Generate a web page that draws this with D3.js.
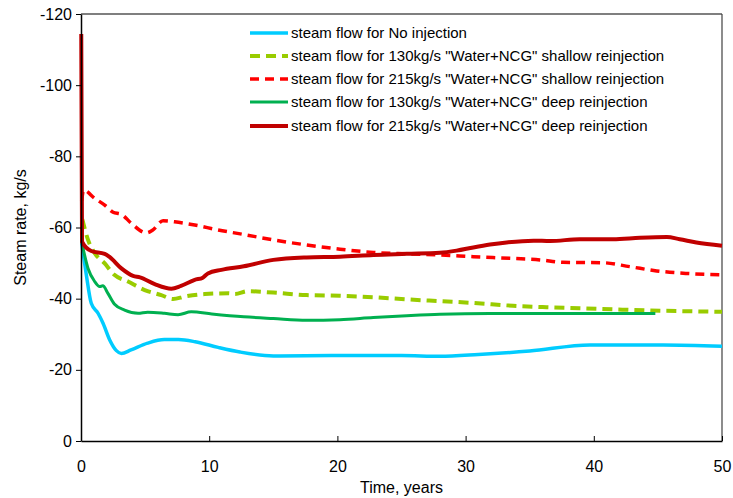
<!DOCTYPE html>
<html>
<head>
<meta charset="utf-8">
<script src="https://cdn.jsdelivr.net/npm/d3@7"></script>
<style>
  html, body { margin: 0; padding: 0; background: #fff; }
  svg { display: block; font-family: "Liberation Sans", Arial, sans-serif; }
</style>
</head>
<body>
<svg id="chart" width="733" height="498"></svg>
<script>
// ---- Data (time in years, steam rate in kg/s) ----
const xTicks = [0, 10, 20, 30, 40, 50];
const yTicks = [0, -20, -40, -60, -80, -100, -120];

const seriesNames = [
  "steam flow for No injection",
  "steam flow for 130kg/s \"Water+NCG\" shallow reinjection",
  "steam flow for 215kg/s \"Water+NCG\" shallow reinjection",
  "steam flow for 130kg/s \"Water+NCG\" deep reinjection",
  "steam flow for 215kg/s \"Water+NCG\" deep reinjection"
];

const noInjection = [
  [0.05,-55.6],[0.4,-47.1],[0.8,-38.7],[1.33,-35.9],[1.72,-33.1],[2.24,-28.4],[2.76,-25.4],
  [3.15,-24.6],[3.9,-25.6],[5.2,-27.5],[6.5,-28.5],[7.6,-28.5],[8.9,-27.9],[10.7,-26.3],
  [12.4,-25.0],[15,-23.9],[20,-24.0],[25,-24.0],[28,-23.8],[31,-24.3],[35,-25.3],[39.7,-27.0],
  [45.4,-27.0],[50,-26.6]
];
const shallow130 = [
  [0.1,-62.3],[0.55,-56.5],[1.07,-52.8],[1.85,-49.9],[2.6,-46.7],[3.67,-44.8],[4.97,-42.4],
  [6.26,-41.0],[7.18,-39.9],[8.1,-40.6],[9.65,-41.3],[11.5,-41.5],[12.0,-41.3],[13.0,-42.1],
  [15,-41.7],[17.6,-41.0],[20.2,-40.8],[22.8,-40.4],[25.4,-39.8],[28,-39.3],[30.6,-38.8],
  [33.7,-38.0],[36.3,-37.6],[38.9,-37.3],[41.5,-37.0],[44.1,-36.7],[46.7,-36.5],[50,-36.3]
];
const shallow215 = [
  [0.05,-67.5],[0.2,-70.5],[1.07,-68.2],[1.85,-66.3],[2.5,-64.3],[3.15,-63.7],[3.92,-61.2],
  [5.1,-58.5],[5.6,-59.3],[6.4,-61.9],[7.3,-61.6],[8.87,-60.7],[10.7,-59.3],[12.6,-58.1],
  [15,-56.5],[17.6,-55.1],[20.2,-53.9],[22.8,-53.0],[25.4,-52.6],[28,-52.3],[30.6,-51.8],
  [33.7,-51.3],[35.8,-50.9],[37.6,-50.2],[40.7,-50.1],[42.8,-49.0],[44.9,-47.8],[47.2,-47.1],
  [50,-46.7]
];
const deep130 = [
  [0.05,-56.0],[0.55,-48.5],[1.07,-44.8],[1.45,-43.4],[1.7,-43.6],[2.1,-41.5],[2.6,-38.5],
  [3.4,-36.8],[4.45,-35.9],[5.2,-36.2],[6.5,-35.9],[7.57,-35.5],[8.6,-36.3],[10.2,-35.7],
  [12.7,-34.9],[15,-34.4],[17.6,-33.9],[20.2,-34.1],[22.8,-34.7],[25.4,-35.2],[28,-35.6],
  [31.9,-35.8],[38,-35.8],[44.8,-35.8]
];
const deep215 = [
  [0.02,-114.4],[0.08,-56.0],[0.8,-53.4],[1.85,-52.6],[2.2,-51.8],[3.15,-48.5],[4.06,-46.4],
  [4.6,-46.0],[5.75,-44.1],[7.05,-42.8],[7.8,-43.6],[8.87,-45.3],[9.5,-45.9],[9.9,-47.1],
  [10.95,-48.1],[12.7,-49.1],[15,-50.9],[17.6,-51.6],[20.2,-51.8],[22.8,-52.3],[25.4,-52.6],
  [28,-52.9],[29.3,-53.5],[30.6,-54.4],[31.9,-55.2],[33.2,-55.8],[35.3,-56.3],[36.6,-56.2],
  [38.9,-56.7],[41.5,-56.7],[43.6,-57.1],[45.7,-57.3],[46.7,-56.7],[48,-55.8],[50,-54.9]
];

const seriesData = [noInjection, shallow130, shallow215, deep130, deep215];
const seriesColors = ["#00CCFF", "#99CC00", "#FF0000", "#00B050", "#C00000"];
const seriesDash = [null, "10,6", "9,6", null, null];
const seriesWidth = [3.5, 4, 3.5, 3, 4];

// ---- Layout ----
(function () {
  const svg = d3.select("#chart");
  const mLeft = 81, mRight = 722, mTop = 14, mBottom = 441;
  const font = "'Liberation Sans', Arial, sans-serif";

  const x = d3.scaleLinear().domain([0, 50]).range([mLeft, mRight]);
  const y = d3.scaleLinear().domain([0, -120]).range([mBottom, mTop]);

  // plot frame (top & right)
  svg.append("line").attr("x1", mLeft).attr("x2", mRight).attr("y1", mTop).attr("y2", mTop)
    .attr("stroke", "#000").attr("stroke-width", 1.2);
  svg.append("line").attr("x1", mRight).attr("x2", mRight).attr("y1", mTop).attr("y2", mBottom)
    .attr("stroke", "#404040").attr("stroke-width", 1.2);

  // series
  const line = d3.line().x(d => x(d[0])).y(d => y(d[1])).curve(d3.curveMonotoneX);
  seriesData.forEach((data, i) => {
    svg.append("path")
      .datum(data)
      .attr("d", line)
      .attr("fill", "none")
      .attr("stroke", seriesColors[i])
      .attr("stroke-width", seriesWidth[i])
      .attr("stroke-dasharray", seriesDash[i])
      .attr("stroke-linejoin", "round");
  });

  // axes
  const xAxis = d3.axisBottom(x).tickValues(xTicks).tickSizeInner(5).tickSizeOuter(0).tickPadding(15);
  const gx = svg.append("g").attr("transform", `translate(0,${mBottom})`).call(xAxis);
  const yAxis = d3.axisLeft(y).tickValues(yTicks).tickSizeInner(5).tickSizeOuter(0).tickPadding(4)
    .tickFormat(d => d === 0 ? "0" : String(d));
  const gy = svg.append("g").attr("transform", `translate(${mLeft},0)`).call(yAxis);

  [gx, gy].forEach(g => {
    g.selectAll(".domain").attr("stroke", "#000").attr("stroke-width", 1.5);
    g.selectAll(".tick line").attr("stroke", "#000").attr("stroke-width", 1);
    g.selectAll("text").attr("font-size", 16).attr("fill", "#000").attr("font-family", font);
  });
  gx.selectAll(".tick line").attr("y1", 0).attr("y2", -5);

  // axis titles
  svg.append("text").attr("x", (mLeft + mRight) / 2).attr("y", 493)
    .attr("text-anchor", "middle").attr("font-size", 16).attr("font-family", font)
    .text("Time, years");
  svg.append("text").attr("transform", `translate(26,${(mTop + mBottom) / 2}) rotate(-90)`)
    .attr("text-anchor", "middle").attr("font-size", 16).attr("font-family", font)
    .text("Steam rate, kg/s");

  // legend
  const legendY = [33, 56, 79, 102, 126];
  seriesNames.forEach((name, i) => {
    const g = svg.append("g").attr("transform", `translate(250,${legendY[i]})`);
    g.append("line").attr("x1", 0).attr("x2", 38).attr("y1", 0).attr("y2", 0)
      .attr("stroke", seriesColors[i]).attr("stroke-width", seriesWidth[i])
      .attr("stroke-dasharray", seriesDash[i]);
    g.append("text").attr("x", 41).attr("y", 0).attr("dy", "0.35em")
      .attr("font-size", 15).attr("font-family", font).text(name);
  });
})();
</script>
</body>
</html>
